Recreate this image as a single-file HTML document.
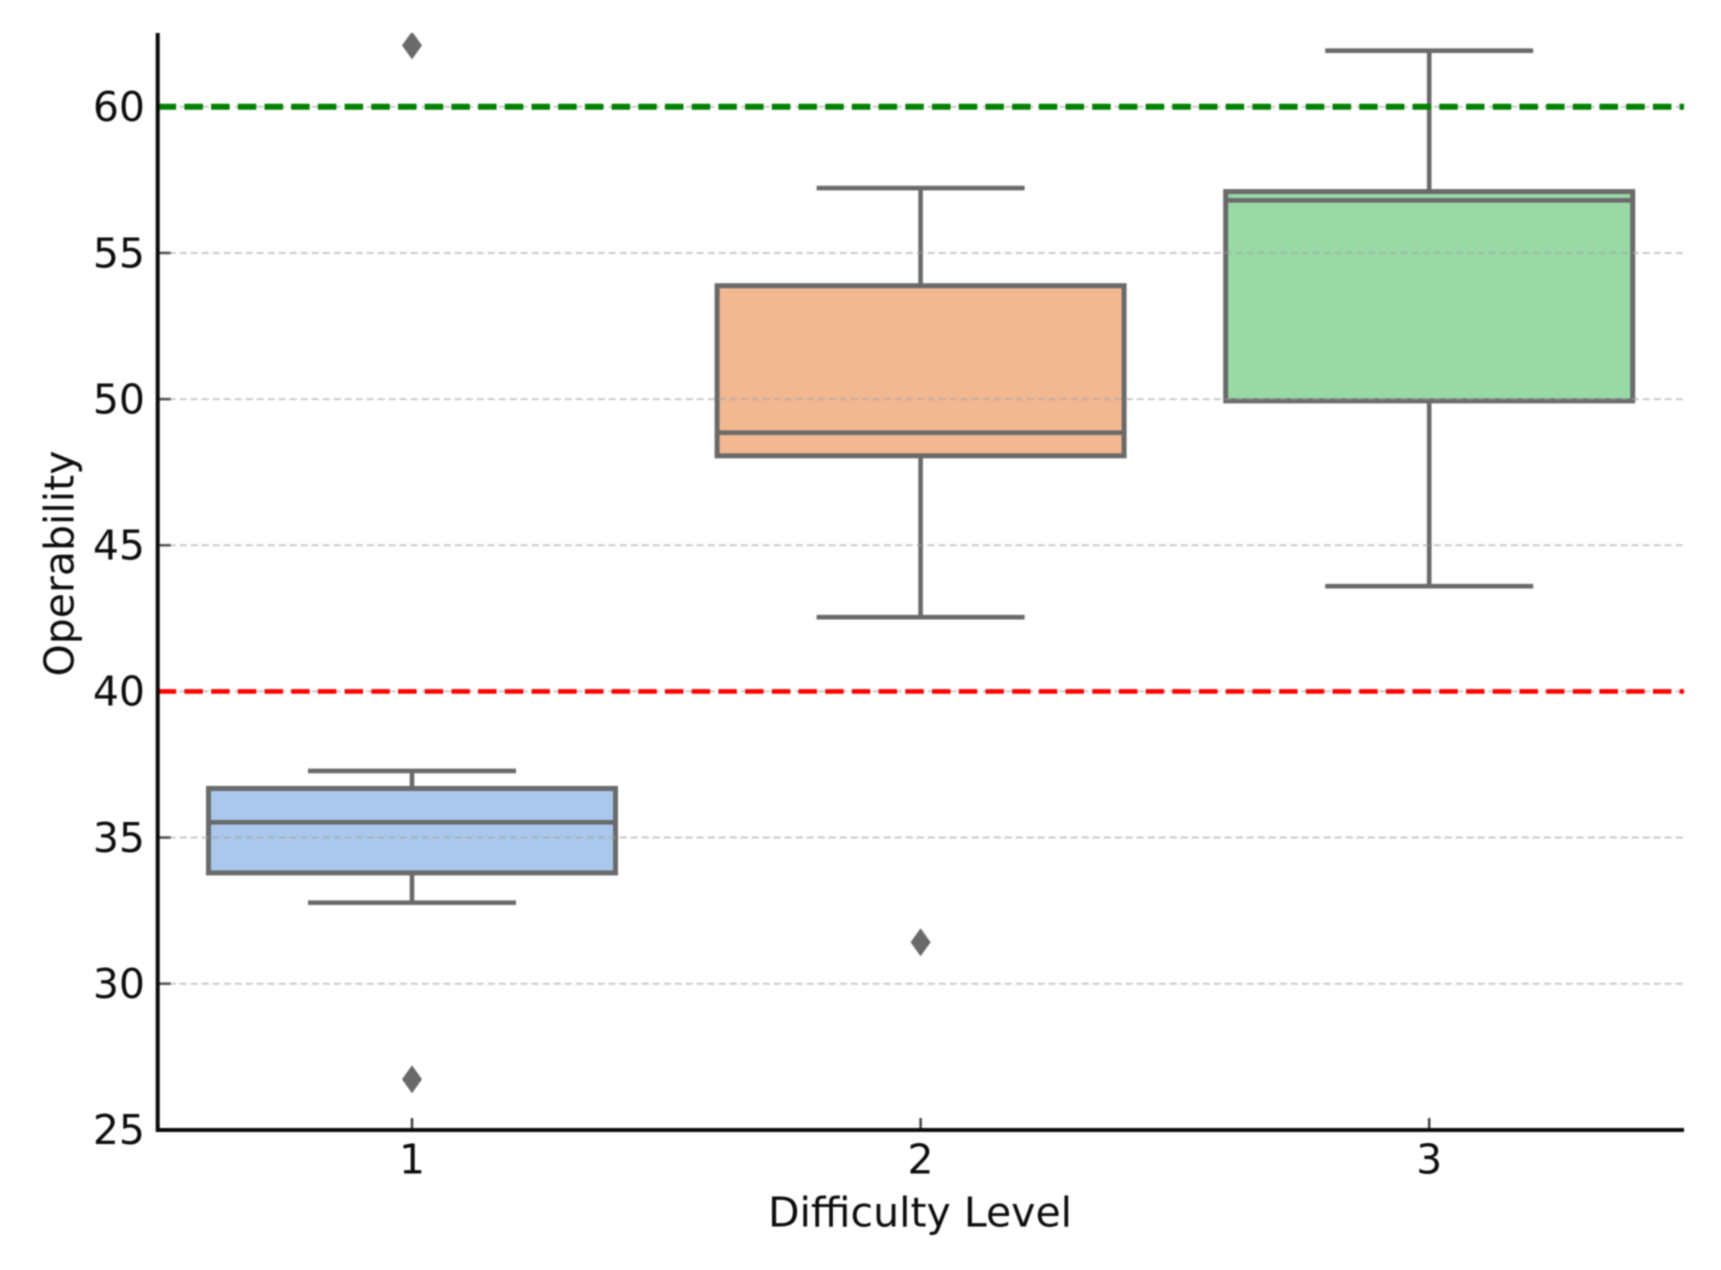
<!DOCTYPE html>
<html lang="en">
<head>
<meta charset="utf-8">
<title>Operability by Difficulty Level</title>
<style>
  html, body { margin: 0; padding: 0; background: #fff; }
  body { width: 1721px; height: 1270px; overflow: hidden; }
  svg { display: block; filter: blur(0.9px); }
  text { font-family: "DejaVu Sans", "Liberation Sans", sans-serif; fill: #0d0d0d; }
</style>
</head>
<body>
<svg id="chart" xmlns="http://www.w3.org/2000/svg" width="1721" height="1270" viewBox="0 0 1721 1270">
  <defs>
    <clipPath id="plot-clip"><rect x="157" y="33" width="1527" height="1097"/></clipPath>
  </defs>
  <rect x="0" y="0" width="1721" height="1270" fill="#ffffff"/>
</svg>
<script>
const categories = ['1', '2', '3'];
const whiskerHigh = [37.28, 57.22, 61.92];
const q3Values = [36.68, 53.88, 57.1];
const medians = [35.52, 48.85, 56.8];
const q1Values = [33.79, 48.06, 49.94];
const whiskerLow = [32.77, 42.54, 43.6];
const outliers = [[62.1, 26.73], [31.42], []];
const boxColors = ['#a9c8ec', '#f1b892', '#98d9a6'];
const yTicks = [25, 30, 35, 40, 45, 50, 55, 60];
const upperThreshold = 60;
const lowerThreshold = 40;

const NS = 'http://www.w3.org/2000/svg';
const svg = document.getElementById('chart');
const plotLeft = 157.7, plotRight = 1684, plotTop = 33, plotBottom = 1130;
const yScale = v => 106.8 + (60 - v) * 29.23;
const xScale = i => 412 + i * 508.6;
const BOX_HALF = 203.5, CAP_HALF = 104, GREY = '#6a6a6a';

function make(tag, attrs, text) {
  const el = document.createElementNS(NS, tag);
  for (const k in attrs) el.setAttribute(k, attrs[k]);
  if (text !== undefined) el.textContent = text;
  svg.appendChild(el);
  return el;
}

categories.forEach((c, i) => {
  const x = xScale(i);
  const top = yScale(q3Values[i]), bottom = yScale(q1Values[i]);

  const upper = make('line', {x1: x, x2: x, y1: yScale(whiskerHigh[i]), y2: top, stroke: GREY, 'stroke-width': 4.6});
  
  

  const lower = make('line', {x1: x, x2: x, y1: bottom, y2: yScale(whiskerLow[i]), stroke: GREY, 'stroke-width': 4.6});
  
  

  const capHigh = make('line', {x1: x - CAP_HALF, x2: x + CAP_HALF, y1: yScale(whiskerHigh[i]), y2: yScale(whiskerHigh[i]), stroke: GREY, 'stroke-width': 4.6});
  
  

  const capLow = make('line', {x1: x - CAP_HALF, x2: x + CAP_HALF, y1: yScale(whiskerLow[i]), y2: yScale(whiskerLow[i]), stroke: GREY, 'stroke-width': 4.6});
  
  

  const box = make('rect', {x: x - BOX_HALF, y: top, width: BOX_HALF * 2, height: bottom - top, fill: boxColors[i], stroke: GREY, 'stroke-width': 5});
  
  

  const med = make('line', {x1: x - BOX_HALF, x2: x + BOX_HALF, y1: yScale(medians[i]), y2: yScale(medians[i]), stroke: GREY, 'stroke-width': 4.6});
  
  

  outliers[i].forEach((v, j) => {
    const cy = yScale(v);
    const d = make('polygon', {points: `${x},${cy - 14} ${x + 10},${cy} ${x},${cy + 14} ${x - 10},${cy}`, fill: GREY, 'clip-path': 'url(#plot-clip)'});
    
    
  });
});

yTicks.forEach(v => {
  const y = yScale(v);

  const grid = make('line', {x1: plotLeft, x2: plotRight, y1: y, y2: y, stroke: 'rgba(160,160,160,0.55)', 'stroke-width': 2, 'stroke-dasharray': '7 4'});
  
  

  const tick = make('line', {x1: plotLeft, x2: plotLeft + 13, y1: y, y2: y, stroke: '#555555', 'stroke-width': 2.6});
  
  

  const label = make('text', {x: 145, y: y + 14.3, 'text-anchor': 'end', 'font-size': 41}, String(v));
  
  
});

const greenLine = make('line', {x1: plotLeft, x2: plotRight, y1: yScale(upperThreshold), y2: yScale(upperThreshold), stroke: '#008000', 'stroke-width': 6, 'stroke-dasharray': '18.5 8.2'});



const redLine = make('line', {x1: plotLeft, x2: plotRight, y1: yScale(lowerThreshold), y2: yScale(lowerThreshold), stroke: '#ff0000', 'stroke-width': 4.6, 'stroke-dasharray': '18.5 8.2'});



categories.forEach((c, i) => {
  const x = xScale(i);

  const tick = make('line', {x1: x, x2: x, y1: plotBottom, y2: plotBottom - 12, stroke: '#444444', 'stroke-width': 2.6});
  
  

  const label = make('text', {x: x, y: 1173.5, 'text-anchor': 'middle', 'font-size': 41}, c);
  
  
});

const spineLeft = make('line', {x1: plotLeft, x2: plotLeft, y1: plotTop, y2: plotBottom + 2, stroke: '#0a0a0a', 'stroke-width': 4});



const spineBottom = make('line', {x1: plotLeft, x2: plotRight, y1: plotBottom, y2: plotBottom, stroke: '#0a0a0a', 'stroke-width': 4});



const xTitle = make('text', {x: 920, y: 1226.5, 'text-anchor': 'middle', 'font-size': 41}, 'Difficulty Level');



const yTitle = make('text', {x: 0, y: 0, 'text-anchor': 'middle', 'font-size': 41, transform: 'translate(73.5 563.5) rotate(-90)'}, 'Operability');


</script>
</body>
</html>
